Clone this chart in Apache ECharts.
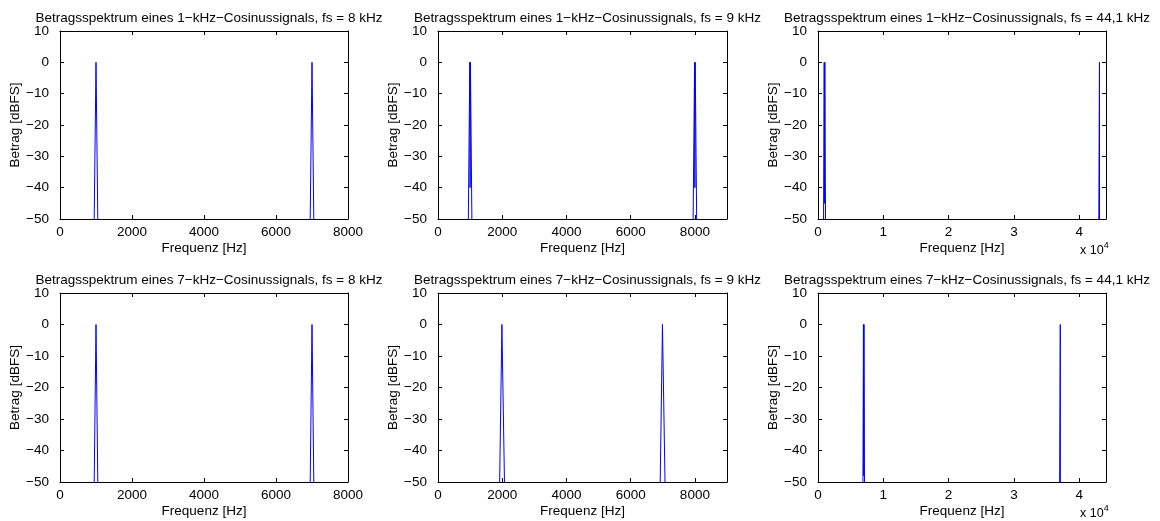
<!DOCTYPE html>
<html>
<head>
<meta charset="utf-8">
<title>Betragsspektren</title>
<script src="https://cdn.jsdelivr.net/npm/echarts@6/dist/echarts.min.js"></script>
<style>
  html, body { margin: 0; padding: 0; background: #fff; }
  #chart { width: 1160px; height: 521px; }
</style>
</head>
<body>
<div id="chart"></div>
<script>
// Magnitude spectra [Hz, dBFS]; bins far from the tone sit at -100 dB (below the axis floor).
const spec1kFs8   = [[0, -100], [900, -100], [1000, 0], [1100, -100], [6900, -100], [7000, 0], [7100, -100], [8000, -100]];
const spec1kFs9   = [[0, -100], [900, -100], [990, 0], [1000, -40], [1010, 0], [1100, -100],
                     [7900, -100], [7990, 0], [8000, -40], [8010, 0], [8100, -100], [9000, -100]];
const spec1kFs441 = [[0, -100], [750, -100], [950, 0], [1000, -45], [1050, 0], [1250, -100],
                     [42900, -100], [43100, 0], [43120, -100], [44100, -100]];
const spec7kFs8   = [[0, -100], [900, -100], [1000, 0], [1100, -100], [6900, -100], [7000, 0], [7100, -100], [8000, -100]];
const spec7kFs9   = [[0, -100], [1850, -100], [1990, 0], [2010, 0], [2150, -100],
                     [6850, -100], [6990, 0], [7010, 0], [7150, -100], [9000, -100]];
const spec7kFs441 = [[0, -100], [6800, -100], [6960, 0], [7000, -48], [7040, 0], [7200, -100],
                     [36900, -100], [37100, 0], [37130, -100], [44100, -100]];

const panelTitles = [
  'Betragsspektrum eines 1\u2212kHz\u2212Cosinussignals, fs = 8 kHz',
  'Betragsspektrum eines 1\u2212kHz\u2212Cosinussignals, fs = 9 kHz',
  'Betragsspektrum eines 1\u2212kHz\u2212Cosinussignals, fs = 44,1 kHz',
  'Betragsspektrum eines 7\u2212kHz\u2212Cosinussignals, fs = 8 kHz',
  'Betragsspektrum eines 7\u2212kHz\u2212Cosinussignals, fs = 9 kHz',
  'Betragsspektrum eines 7\u2212kHz\u2212Cosinussignals, fs = 44,1 kHz'
];
const panelSpectra = [spec1kFs8, spec1kFs9, spec1kFs441, spec7kFs8, spec7kFs9, spec7kFs441];
const xMaxHz  = [8000, 9000, 44100, 8000, 9000, 44100];
const xStepHz = [2000, 2000, 10000, 2000, 2000, 10000];
const xScaleExp = [0, 0, 4, 0, 0, 4];      // exponent shown as "x 10^n" under the axis
const yMin = -50, yMax = 10, yStep = 10;
const xName = 'Frequenz [Hz]';
const yName = 'Betrag [dBFS]';

// Layout of the 2 x 3 panel grid
const colLeft  = [60, 438, 818];
const colWidth = [288, 289, 288];
const rowTop   = [31, 293];
const rowHeight = [188, 189];

const FONT = '"Liberation Sans", Arial, Helvetica, sans-serif';
const FS = 13.5;
const INK = '#000';
const minus = v => (v < 0 ? '\u2212' + Math.abs(v) : String(v));

const grids = [], xAxes = [], yAxes = [], series = [], titles = [], graphics = [];

panelSpectra.forEach((data, i) => {
  const col = i % 3, row = Math.floor(i / 3);
  const left = colLeft[col], top = rowTop[row], w = colWidth[col], h = rowHeight[row];
  grids.push({ left, top, width: w, height: h, containLabel: false, outerBoundsMode: 'none' });

  const exp = xScaleExp[i];
  const div = Math.pow(10, exp);
  const hideMax = xMaxHz[i] % xStepHz[i] !== 0;
  const baseX = {
    type: 'value', gridIndex: i, min: 0, max: xMaxHz[i], interval: xStepHz[i],
    splitLine: { show: false },
    axisLine: { show: true, onZero: false, lineStyle: { color: INK, width: 1 } },
    axisTick: { show: true, inside: true, length: 4, lineStyle: { color: INK, width: 1 } }
  };
  xAxes.push(Object.assign({}, baseX, {
    position: 'bottom',
    name: xName, nameLocation: 'middle', nameGap: 22,
    nameTextStyle: { color: INK, fontFamily: FONT, fontSize: FS },
    axisLabel: {
      show: true, margin: 6, color: INK, fontFamily: FONT, fontSize: FS,
      showMaxLabel: !hideMax, showMinLabel: true,
      formatter: v => String(Math.round(v / div * 100) / 100)
    }
  }));
  xAxes.push(Object.assign({}, baseX, { position: 'top', axisLabel: { show: false } }));

  const baseY = {
    type: 'value', gridIndex: i, min: yMin, max: yMax, interval: yStep,
    splitLine: { show: false },
    axisLine: { show: true, onZero: false, lineStyle: { color: INK, width: 1 } },
    axisTick: { show: true, inside: true, length: 4, lineStyle: { color: INK, width: 1 } }
  };
  yAxes.push(Object.assign({}, baseY, {
    position: 'left',
    name: yName, nameLocation: 'middle', nameGap: 32, nameRotate: 90,
    nameTextStyle: { color: INK, fontFamily: FONT, fontSize: FS },
    axisLabel: { show: true, margin: 11, color: INK, fontFamily: FONT, fontSize: FS, formatter: minus }
  }));
  yAxes.push(Object.assign({}, baseY, { position: 'right', axisLabel: { show: false } }));

  series.push({
    type: 'line', xAxisIndex: 2 * i, yAxisIndex: 2 * i, data,
    showSymbol: false, symbol: 'none', clip: true, animation: false,
    lineStyle: { color: '#0000ff', width: 1 }, emphasis: { disabled: true }
  });

  titles.push({
    text: panelTitles[i], left: left + w / 2, top: top - 25, textAlign: 'center',
    textStyle: { color: INK, fontFamily: FONT, fontSize: FS, fontWeight: 'normal' }
  });

  if (exp) {
    graphics.push({
      type: 'text', left: left + w - 26, top: top + h + 22, silent: true,
      style: {
        text: '{m|x 10}{e|' + exp + '}',
        rich: {
          m: { fontFamily: FONT, fontSize: FS - 1, fill: INK, verticalAlign: 'bottom', lineHeight: 16 },
          e: { fontFamily: FONT, fontSize: 9, fill: INK, verticalAlign: 'top', lineHeight: 16 }
        }
      }
    });
  }
});

const chart = echarts.init(document.getElementById('chart'), null, { renderer: 'canvas' });
chart.setOption({
  animation: false,
  backgroundColor: '#fff',
  title: titles,
  grid: grids,
  xAxis: xAxes,
  yAxis: yAxes,
  series,
  graphic: graphics,
  tooltip: { show: false }
});
</script>
</body>
</html>
